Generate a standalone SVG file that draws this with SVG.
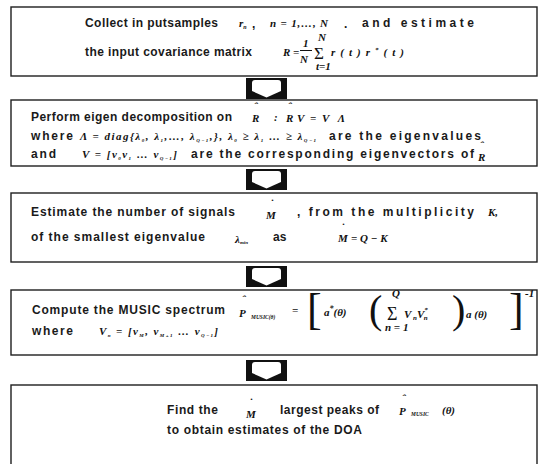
<svg xmlns="http://www.w3.org/2000/svg" xmlns:xlink="http://www.w3.org/1999/xlink" width="542" height="464" viewBox="0 0 542 464">
<style>
.box{fill:#fff;stroke:#1e1e1e;stroke-width:1.4}
.t{font-family:"Liberation Sans",Arial,sans-serif;font-size:12px;font-weight:bold;fill:#1a1a1a}
.m{font-family:"Liberation Serif","Times New Roman",serif;font-style:italic;font-weight:bold;font-size:11px;fill:#111}
.u{font-family:"Liberation Serif","Times New Roman",serif;font-weight:normal;fill:#111}
</style>
<defs>
<g id="arr">
<rect x="0" y="0" width="41" height="21" fill="#111"/>
<path d="M9,2 L32,2 Q35,2 35,5 L35,13 L20.5,19.5 L6,13 L6,5 Q6,2 9,2 Z" fill="#fff"/>
</g>
</defs>
<rect width="542" height="464" fill="#fff"/>

<g id="connectors">
<use xlink:href="#arr" x="246" y="78"/>
<use xlink:href="#arr" x="246" y="169"/>
<use xlink:href="#arr" x="246" y="266"/>
<use xlink:href="#arr" x="246" y="360"/>
</g>

<g id="node1">
<rect class="box" x="11" y="7" width="526" height="69"/>
<text class="t" x="85" y="27" textLength="133" lengthAdjust="spacing">Collect in putsamples</text>
<text class="m" x="239" y="27">r<tspan font-size="6" dy="2">n</tspan></text>
<text class="t" x="252" y="28">,</text>
<text class="m" x="270" y="27" textLength="58" lengthAdjust="spacing">n = 1,…, N</text>
<text class="t" x="344" y="28">.</text>
<text class="t" x="362" y="27" textLength="112" lengthAdjust="spacing">and estimate</text>
<text class="t" x="85" y="56" textLength="167" lengthAdjust="spacing">the input covariance matrix</text>
<text class="m" x="283" y="56" font-size="12">R =</text>
<text class="m" x="303" y="47" font-size="10">1</text>
<line x1="300" y1="50.5" x2="312" y2="50.5" stroke="#111" stroke-width="1"/>
<text class="m" x="300" y="63" font-size="11">N</text>
<text class="u" x="314" y="59" font-size="17">Σ</text>
<text class="m" x="318" y="41" font-size="6">N</text>
<text class="m" x="316" y="70" font-size="5">t=1</text>
<text class="m" x="331" y="56" font-size="12" textLength="73" lengthAdjust="spacing">r(t)r<tspan font-size="7" dy="-4">*</tspan><tspan dy="4">(t)</tspan></text>
</g>

<g id="node2">
<rect class="box" x="11" y="100" width="526" height="66"/>
<text class="t" x="31" y="121" textLength="201" lengthAdjust="spacing">Perform eigen decomposition on</text>
<text class="m" x="252" y="122">R</text>
<text class="m" x="254" y="110" font-size="8">ˆ</text>
<text class="m" x="274" y="121">:</text>
<text class="m" x="286" y="122">R</text>
<text class="m" x="288" y="110" font-size="8">ˆ</text>
<text class="m" x="297" y="122">V</text>
<text class="m" x="310" y="122">=</text>
<text class="m" x="322" y="122" textLength="23" lengthAdjust="spacing">VΛ</text>
<text class="t" x="31" y="140" textLength="42" lengthAdjust="spacing">where</text>
<text class="m" x="80" y="140" font-size="9" textLength="236" lengthAdjust="spacing">Λ = diag{λ<tspan font-size="5" dy="2">0</tspan><tspan dy="-2">, λ</tspan><tspan font-size="5" dy="2">1</tspan><tspan dy="-2">,…, λ</tspan><tspan font-size="5" dy="2">Q−1</tspan><tspan dy="-2">,}, λ</tspan><tspan font-size="5" dy="2">0</tspan><tspan dy="-2"> ≥ λ</tspan><tspan font-size="5" dy="2">1</tspan><tspan dy="-2"> … ≥ λ</tspan><tspan font-size="5" dy="2">Q−1</tspan></text>
<text class="t" x="329" y="140" textLength="152" lengthAdjust="spacing">are the eigenvalues</text>
<text class="t" x="31" y="158" textLength="25" lengthAdjust="spacing">and</text>
<text class="m" x="82" y="158" font-size="10" textLength="95" lengthAdjust="spacing">V = [v<tspan font-size="5" dy="2">0</tspan><tspan dy="-2">v</tspan><tspan font-size="5" dy="2">1</tspan><tspan dy="-2"> … v</tspan><tspan font-size="5" dy="2">Q−1</tspan><tspan dy="-2">]</tspan></text>
<text class="t" x="191" y="158" textLength="283" lengthAdjust="spacing">are the corresponding eigenvectors of</text>
<text class="m" x="478" y="161" font-size="10">R</text>
<text class="m" x="480" y="149" font-size="8">ˆ</text>
</g>

<g id="node3">
<rect class="box" x="11" y="193" width="526" height="69"/>
<text class="t" x="31" y="216" textLength="204" lengthAdjust="spacing">Estimate the number of signals</text>
<text class="m" x="266" y="219">M</text>
<text class="m" x="270" y="207" font-size="7">˙</text>
<text class="t" x="297" y="216" textLength="177" lengthAdjust="spacing">, from the multiplicity</text>
<text class="m" x="488" y="216">K,</text>
<text class="t" x="31" y="241" textLength="174" lengthAdjust="spacing">of the smallest eigenvalue</text>
<text class="m" x="235" y="243">λ<tspan font-size="5" dy="1">min</tspan></text>
<text class="t" x="273" y="241">as</text>
<text class="m" x="338" y="242" font-size="10">M</text>
<text class="m" x="341" y="231" font-size="7">˙</text>
<text class="m" x="351" y="242" font-size="9">= Q − K</text>
</g>

<g id="node4">
<rect class="box" x="11" y="290" width="526" height="65"/>
<text class="t" x="32" y="314" textLength="193" lengthAdjust="spacing">Compute the MUSIC spectrum</text>
<text class="m" x="239" y="317" font-size="13">P</text>
<text class="m" x="242" y="303" font-size="9">ˆ</text>
<text class="m" transform="translate(251,319) scale(0.5)" font-size="9">MUSIC(θ)</text>
<text class="m" x="292" y="314" font-size="9">=</text>
<text class="u" x="307" y="324" font-size="44">[</text>
<text class="m" x="324" y="316" font-size="14">a<tspan font-size="8" dy="-5">*</tspan><tspan dy="5">(θ)</tspan></text>
<text class="u" x="369" y="323" font-size="40">(</text>
<text class="m" x="392" y="297" font-size="9">Q</text>
<text class="u" x="387" y="320" font-size="18">Σ</text>
<text class="m" x="385" y="331" font-size="6">n = 1</text>
<text class="m" x="404" y="318" font-size="13">V<tspan font-size="7" dy="2"> n</tspan><tspan dy="-2">V</tspan><tspan font-size="7" dy="-6">*</tspan><tspan font-size="7" dx="-4" dy="8">n</tspan></text>
<text class="u" x="452" y="323" font-size="40">)</text>
<text class="m" x="466" y="318" font-size="14">a  (θ)</text>
<text class="u" x="509" y="324" font-size="44">]</text>
<text class="m" x="525" y="297" font-size="6">-1</text>
<text class="t" x="32" y="335" textLength="41" lengthAdjust="spacing">where</text>
<text class="m" x="99" y="335" font-size="10" textLength="119" lengthAdjust="spacing">V<tspan font-size="5" dy="2">n</tspan><tspan dy="-2"> = [v</tspan><tspan font-size="5" dy="2">M</tspan><tspan dy="-2">, v</tspan><tspan font-size="5" dy="2">M+1</tspan><tspan dy="-2"> … v</tspan><tspan font-size="5" dy="2">Q−1</tspan><tspan dy="-2">]</tspan></text>
</g>

<g id="node5">
<rect class="box" x="11" y="385" width="526" height="90"/>
<text class="t" x="167" y="414" textLength="51" lengthAdjust="spacing">Find the</text>
<text class="m" x="246" y="418" font-size="10">M</text>
<text class="m" x="249" y="406" font-size="7">˙</text>
<text class="t" x="280" y="414" textLength="99" lengthAdjust="spacing">largest peaks of</text>
<text class="m" x="399" y="415" font-size="12">P</text>
<text class="m" x="402" y="402" font-size="8">ˆ</text>
<text class="m" transform="translate(411,416) scale(0.5)" font-size="9">MUSIC</text>
<text class="m" x="442" y="414" font-size="10">(θ)</text>
<text class="t" x="167" y="434" textLength="195" lengthAdjust="spacing">to obtain estimates of the DOA</text>
</g>
</svg>
